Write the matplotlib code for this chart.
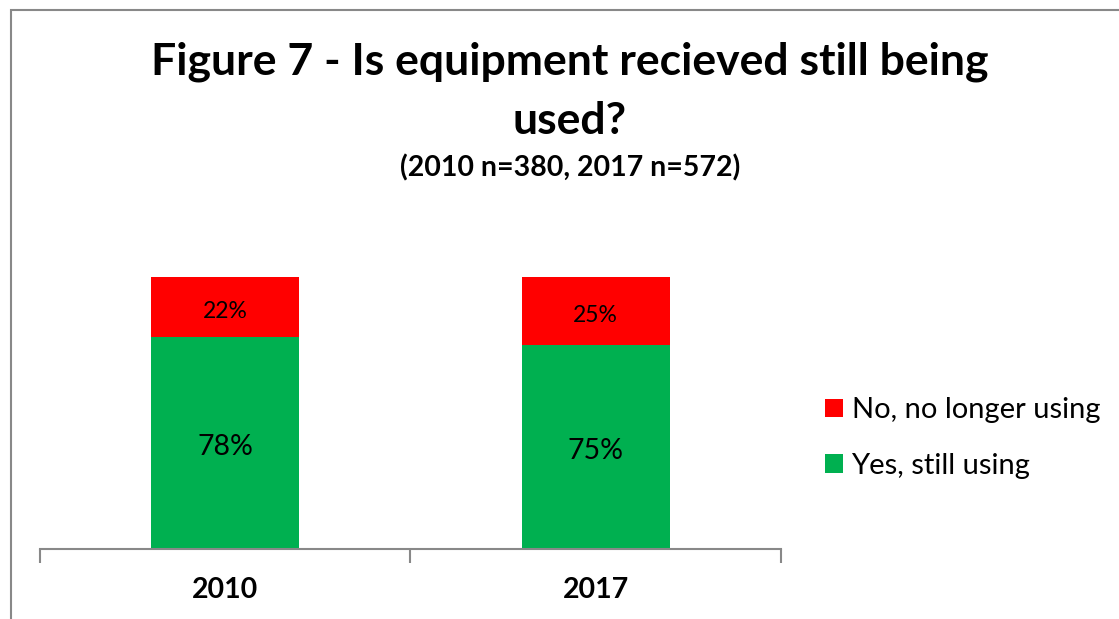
import matplotlib
matplotlib.use("Agg")
import matplotlib.pyplot as plt
from matplotlib.patches import Rectangle

plt.rcParams['font.family'] = ['Lato', 'DejaVu Sans']

years = ["2010", "2017"]
yes_share = [0.78, 0.75]
no_share = [0.22, 0.25]
yes_labels = ["78%", "75%"]
no_labels = ["22%", "25%"]
series_names = ["No, no longer using", "Yes, still using"]

green = "#00B050"
red = "#FF0000"

fig = plt.figure(figsize=(11.19, 6.19), dpi=100)
W, H = 1119, 619

# chart frame (runs off the right and bottom edges)
fig.patches.append(Rectangle((11 / W, -0.1), 1.2, 1 - 10 / H + 0.1,
                             transform=fig.transFigure, fill=False,
                             edgecolor="#888888", linewidth=1.5))

ax = fig.add_axes([40 / W, 1 - 549 / H, (781 - 40) / W, (549 - 277) / H])
x = range(len(years))
b_yes = ax.bar(x, yes_share, width=0.4, color=green, label=series_names[1])
b_no = ax.bar(x, no_share, width=0.4, bottom=yes_share, color=red,
              label=series_names[0])

for i in x:
    ax.annotate(yes_labels[i], (i, yes_share[i] / 2), xytext=(0, -3),
                textcoords="offset points", ha="center", va="center",
                fontsize=20.5)
    ax.annotate(no_labels[i], (i, yes_share[i] + no_share[i] / 2),
                xytext=(0, -3), textcoords="offset points", ha="center",
                va="center", fontsize=16.5)

ax.set_xlim(-0.5, 1.5)
ax.set_ylim(0, 1)
for s in ["top", "right", "left"]:
    ax.spines[s].set_visible(False)
ax.spines["bottom"].set_color("#888888")
ax.spines["bottom"].set_linewidth(1.5)
ax.set_yticks([])
ax.set_xticks([-0.5, 0.5, 1.5], minor=False)
ax.set_xticklabels([])
ax.tick_params(axis="x", length=10, width=1.5, color="#888888")
ax.set_xticks(list(x), minor=True)
ax.set_xticklabels(years, minor=True, fontsize=20.5, fontweight="bold")
ax.tick_params(axis="x", which="minor", length=0, pad=20)

fig.text(570 / W, 1 - 62 / H, "Figure 7 - Is equipment recieved still being",
         ha="center", va="center", fontsize=32, fontweight="bold")
fig.text(570 / W, 1 - 121 / H, "used?", ha="center", va="center",
         fontsize=32, fontweight="bold")
fig.text(570 / W, 1 - 168 / H, "(2010 n=380, 2017 n=572)", ha="center",
         va="center", fontsize=20.5, fontweight="bold")

handles = [b_no, b_yes]
fig.legend(handles, series_names, loc="center left",
           bbox_to_anchor=(799 / W, 1 - 438 / H), frameon=False,
           fontsize=21, handlelength=0.6, handleheight=0.6,
           handletextpad=0.3, labelspacing=1.0)

fig.savefig("out.png", dpi=100)
